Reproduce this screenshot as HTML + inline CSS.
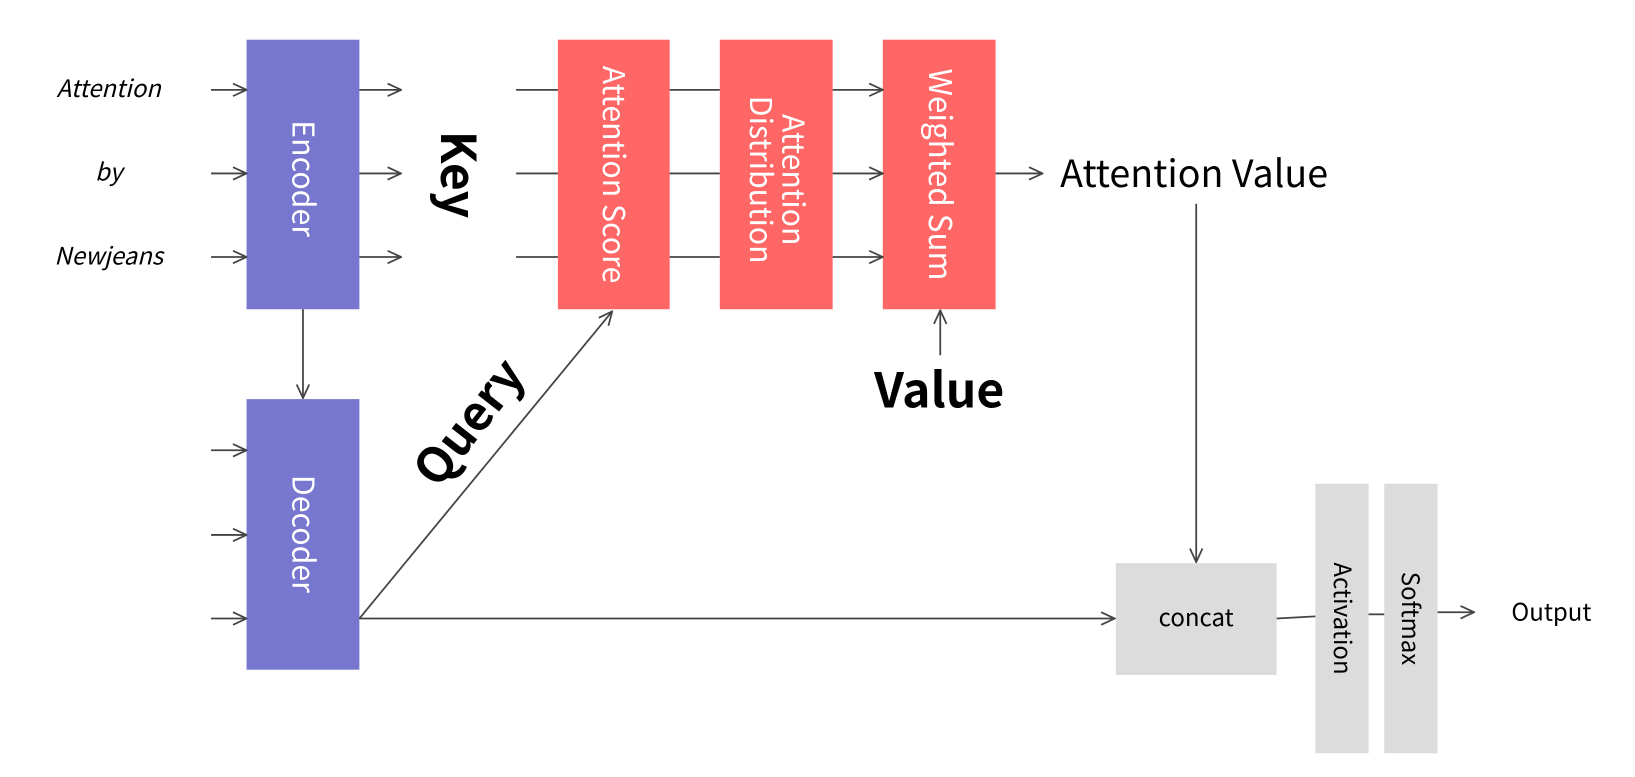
<!DOCTYPE html>
<html><head><style>body{margin:0;background:#fff}svg{display:block}</style></head><body>
<svg width="1635" height="777" viewBox="0 0 1565 743.7" preserveAspectRatio="none" xmlns="http://www.w3.org/2000/svg" font-family="Noto Sans CJK KR, Liberation Sans, sans-serif">
<defs><marker id="a" markerWidth="16" markerHeight="16" refX="15" refY="8" orient="auto" markerUnits="userSpaceOnUse"><path d="M2,2 L15,8 L2,14" fill="none" stroke="#444" stroke-width="1.7"/></marker></defs>
<g fill="#7777cf"><rect x="236" y="38" width="108" height="258"/><rect x="236" y="382" width="108" height="259"/></g>
<g fill="#ff6666"><rect x="534" y="38" width="107" height="258"/><rect x="689" y="38" width="108" height="258"/><rect x="845" y="38" width="108" height="258"/></g>
<g fill="#dcdcdc"><rect x="1068" y="539" width="154" height="107"/><rect x="1259" y="463" width="51" height="258"/><rect x="1325" y="463" width="51" height="258"/></g>
<g stroke="#444" stroke-width="1.7" fill="none">
<line x1="202" y1="86" x2="236" y2="86" marker-end="url(#a)"/><line x1="202" y1="166" x2="236" y2="166" marker-end="url(#a)"/><line x1="202" y1="246" x2="236" y2="246" marker-end="url(#a)"/>
<line x1="344" y1="86" x2="384" y2="86" marker-end="url(#a)"/><line x1="344" y1="166" x2="384" y2="166" marker-end="url(#a)"/><line x1="344" y1="246" x2="384" y2="246" marker-end="url(#a)"/>
<line x1="494" y1="86" x2="534" y2="86"/><line x1="494" y1="166" x2="534" y2="166"/><line x1="494" y1="246" x2="534" y2="246"/>
<line x1="641" y1="86" x2="689" y2="86"/><line x1="641" y1="166" x2="689" y2="166"/><line x1="641" y1="246" x2="689" y2="246"/>
<line x1="797" y1="86" x2="845" y2="86" marker-end="url(#a)"/><line x1="797" y1="166" x2="845" y2="166" marker-end="url(#a)"/><line x1="797" y1="246" x2="845" y2="246" marker-end="url(#a)"/>
<line x1="953" y1="166" x2="998" y2="166" marker-end="url(#a)"/>
<line x1="290" y1="296" x2="290" y2="381" marker-end="url(#a)"/>
<line x1="900" y1="340" x2="900" y2="297" marker-end="url(#a)"/>
<line x1="1145" y1="195" x2="1145" y2="538" marker-end="url(#a)"/>
<line x1="202" y1="431" x2="236" y2="431" marker-end="url(#a)"/><line x1="202" y1="512" x2="236" y2="512" marker-end="url(#a)"/><line x1="202" y1="592" x2="236" y2="592" marker-end="url(#a)"/>
<line x1="344" y1="592" x2="1067" y2="592" marker-end="url(#a)"/>
<line x1="344" y1="592" x2="586" y2="298" marker-end="url(#a)"/>
<line x1="1222" y1="592" x2="1259" y2="590"/><line x1="1310" y1="588" x2="1325" y2="588"/>
<line x1="1376" y1="586" x2="1411" y2="586" marker-end="url(#a)"/>
</g>
<g font-style="italic" font-size="23" text-anchor="middle" fill="#000"><text x="104" y="93">Attention</text><text x="104" y="173">by</text><text x="104" y="253">Newjeans</text></g>
<g fill="#fff" font-size="29" text-anchor="middle">
<text transform="translate(290,171) rotate(90)" dy="10">Encoder</text>
<text transform="translate(290,511) rotate(90)" dy="10">Decoder</text>
<text transform="translate(587,167) rotate(90)" dy="10">Attention Score</text>
<text transform="translate(743,172) rotate(90)"><tspan x="0" dy="-6">Attention</tspan><tspan x="0" dy="31">Distribution</tspan></text>
<text transform="translate(899,167) rotate(90)" dy="10" font-size="30">Weighted Sum</text>
</g>
<g fill="#000" font-size="23" text-anchor="middle">
<text transform="translate(1285,592) rotate(90)" dy="8">Activation</text>
<text transform="translate(1350,592) rotate(90)" dy="8">Softmax</text>
<text x="1145" y="599">concat</text>
<text x="1485" y="594">Output</text>
</g>
<text x="1143" y="179" font-size="36" text-anchor="middle">Attention Value</text>
<g font-weight="bold" font-size="46" text-anchor="middle">
<text transform="translate(437,167) rotate(90)" dy="15">Key</text>
<text x="899" y="390">Value</text>
<text transform="translate(450,405) rotate(-52)" dy="15">Query</text>
</g>
</svg>
</body></html>
